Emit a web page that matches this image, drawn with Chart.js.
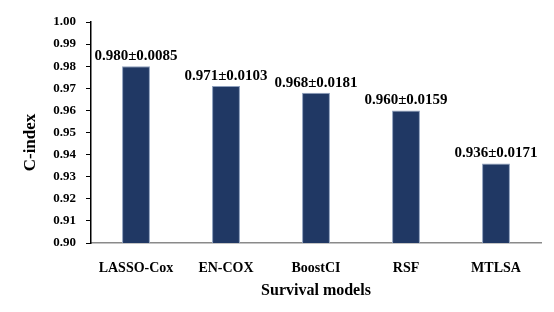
<!DOCTYPE html>
<html>
<head>
<meta charset="utf-8">
<script src="https://cdn.jsdelivr.net/npm/chart.js@4/dist/chart.umd.min.js"></script>
<style>
  html, body { margin: 0; padding: 0; background: #ffffff; }
  #wrap { width: 554px; height: 312px; }
</style>
</head>
<body>
<div id="wrap"><canvas id="c" width="554" height="312"></canvas></div>
<script>
const categories = ["LASSO-Cox", "EN-COX", "BoostCI", "RSF", "MTLSA"];
const cIndex = [0.980, 0.971, 0.968, 0.960, 0.936];
const cIndexSD = [0.0085, 0.0103, 0.0181, 0.0159, 0.0171];
const yMin = 0.90, yMax = 1.00, yStep = 0.01;
const xTitle = "Survival models";
const yTitle = "C-index";

const FONT = "'Liberation Serif', 'Times New Roman', serif";

const valueLabels = {
  id: 'valueLabels',
  afterDatasetsDraw(chart) {
    const ctx = chart.ctx;
    const meta = chart.getDatasetMeta(0);
    ctx.save();
    ctx.font = "bold 15px " + FONT;
    ctx.fillStyle = "#000000";
    ctx.textAlign = "center";
    ctx.textBaseline = "alphabetic";
    meta.data.forEach((bar, i) => {
      const txt = cIndex[i].toFixed(3) + "\u00B1" + cIndexSD[i].toFixed(4);
      ctx.fillText(txt, bar.x, bar.y - 6);
    });
    ctx.restore();
  }
};

const yTitlePlugin = {
  id: 'yTitlePlugin',
  afterDraw(chart) {
    const ctx = chart.ctx;
    const area = chart.chartArea;
    ctx.save();
    ctx.font = "bold 17px " + FONT;
    ctx.fillStyle = "#000000";
    ctx.textAlign = "center";
    ctx.textBaseline = "middle";
    ctx.translate(31, (area.top + area.bottom) / 2 + 10);
    ctx.rotate(-Math.PI / 2);
    ctx.fillText(yTitle, 0, 0);
    ctx.restore();
  }
};

new Chart(document.getElementById('c'), {
  type: 'bar',
  data: {
    labels: categories,
    datasets: [{
      data: cIndex,
      backgroundColor: '#203864',
      borderColor: '#8EA0BE',
      borderWidth: 1,
      categoryPercentage: 1.0,
      barPercentage: 0.31
    }]
  },
  options: {
    responsive: false,
    animation: false,
    devicePixelRatio: 1,
    layout: { padding: { top: 22, right: 13, left: 0, bottom: 0 } },
    plugins: {
      legend: { display: false },
      tooltip: { enabled: false }
    },
    scales: {
      x: {
        grid: { display: false },
        border: { display: true, color: '#8a8a8a', width: 1.5 },
        ticks: {
          color: '#000000',
          font: { family: FONT, size: 14, weight: 'bold' },
          padding: 9,
          maxRotation: 0
        },
        title: {
          display: true,
          text: xTitle,
          color: '#000000',
          font: { family: FONT, size: 16, weight: 'bold' },
          padding: { top: 0, bottom: 12 }
        },
        afterFit(scale) { scale.height = 69; }
      },
      y: {
        min: yMin,
        max: yMax,
        grid: { drawOnChartArea: false, drawTicks: true, tickLength: 5, color: '#000000' },
        border: { display: true, color: '#000000', width: 1.5 },
        ticks: {
          stepSize: yStep,
          color: '#000000',
          font: { family: FONT, size: 13, weight: 'bold' },
          padding: 10,
          callback: (v) => Number(v).toFixed(2)
        },
        afterFit(scale) { scale.width = 91; }
      }
    }
  },
  plugins: [valueLabels, yTitlePlugin]
});
</script>
</body>
</html>
